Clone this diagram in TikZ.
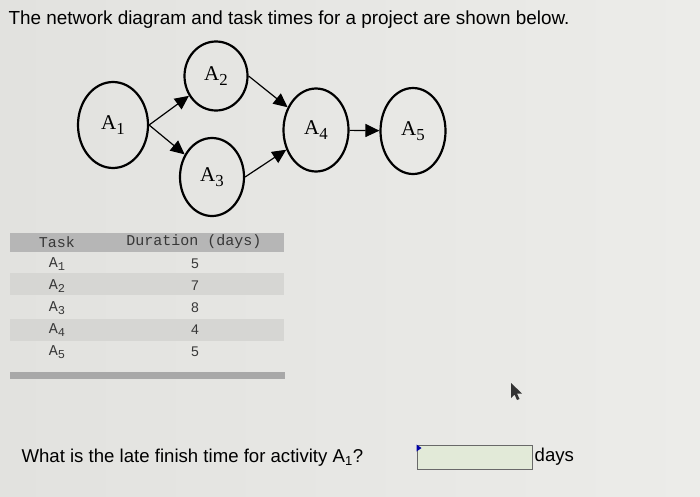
\documentclass[tikz,border=0pt]{standalone}
\usepackage{fontspec}
\usepackage{graphicx}
\setmainfont{Liberation Sans}
\setmonofont{Liberation Mono}
\newfontfamily\actfont{Liberation Serif}
\usetikzlibrary{arrows.meta,shapes.geometric}
\definecolor{paper}{RGB}{226,226,223}
\definecolor{paperlight}{RGB}{236,236,233}
\definecolor{headgray}{RGB}{182,182,182}
\definecolor{bandgray}{RGB}{214,214,211}
\definecolor{bargray}{RGB}{168,168,168}
\definecolor{boxgreen}{RGB}{226,234,216}
\definecolor{boxedge}{RGB}{105,105,105}
\definecolor{tabtext}{RGB}{55,55,55}
\newcommand\lowidx[1]{\raisebox{-0.45ex}{\scalebox{0.8}{#1}}}
\begin{document}
\begin{tikzpicture}[x=1pt,y=-1pt,
  act/.style={draw,ellipse,line width=2.2pt,inner sep=0pt,
    font=\actfont\fontsize{21}{21}\selectfont},
  arr/.style={line width=1.2pt,-{Triangle[length=14pt,width=13pt]}},
  mono/.style={font=\ttfamily\fontsize{15}{15}\selectfont,text=tabtext},
  num/.style={font=\fontsize{14}{14}\selectfont,text=tabtext}]
\useasboundingbox (0,0) rectangle (700,496);
\shade[left color=paper,right color=paperlight] (0,0) rectangle (700,496);

\node[anchor=west,font=\fontsize{18.9}{18.9}\selectfont] (title) at (5,20)
  {The network diagram and task times for a project are shown below.};

% network
\node[act,minimum width=70,minimum height=86] (A1) at (113,125) {A\lowidx{1}};
\node[act,minimum width=63,minimum height=69] (A2) at (216,76) {\raisebox{4pt}{A\lowidx{2}}};
\node[act,minimum width=64,minimum height=78] (A3) at (212,177) {A\lowidx{3}};
\node[act,minimum width=65,minimum height=83] (A4) at (316,130) {A\lowidx{4}};
\node[act,minimum width=65,minimum height=86] (A5) at (413,131) {A\lowidx{5}};

\draw[arr] (A1.east) -- (A2);
\draw[arr] (A1.east) -- (A3);
\draw[arr] (A2.east) -- (A4);
\draw[arr] (A3.east) -- (A4);
\draw[arr] (A4) -- (A5);

% table
\fill[headgray] (10,233) rectangle (284,252);
\fill[bandgray] (10,273) rectangle (284,295);
\fill[bandgray] (10,319) rectangle (284,341);
\fill[bargray] (10,372) rectangle (285,379);

\node[mono] (taskhd) at (57,242) {Task};
\node[mono] (durhd) at (194,242) {Duration (days)};

\node[mono] (t1) at (57,264) {A\lowidx{1}};
\node[mono] (t2) at (57,286) {A\lowidx{2}};
\node[mono] (t3) at (57,308) {A\lowidx{3}};
\node[mono] (t4) at (57,330) {A\lowidx{4}};
\node[mono] (t5) at (57,352) {A\lowidx{5}};

\node[num] (d1) at (195,264) {5};
\node[num] (d2) at (195,286) {7};
\node[num] (d3) at (195,308) {8};
\node[num] (d4) at (195,330) {4};
\node[num] (d5) at (195,352) {5};

% question
\node[anchor=west,font=\fontsize{18.6}{18.6}\selectfont] (question) at (18,458)
  {What is the late finish time for activity A\textsubscript{1}?};
\node[draw=boxedge,line width=1pt,fill=boxgreen,minimum width=115,minimum height=24,
  inner sep=0pt] (answer) at (474.5,457) {};
\fill[blue!65!black] (answer.north west) -- ++(5,3.5) -- ++(-5,3.5) -- cycle;
\node[anchor=west,font=\fontsize{18.6}{18.6}\selectfont,inner sep=2pt] (unit) at (answer.east) {days};

% pointer
\fill[black!80] (511,383) -- (511,398) -- (514.5,394.5) -- (517,400) -- (519.5,399)
  -- (517,393.5) -- (522,393.5) -- cycle;
\end{tikzpicture}
\end{document}
